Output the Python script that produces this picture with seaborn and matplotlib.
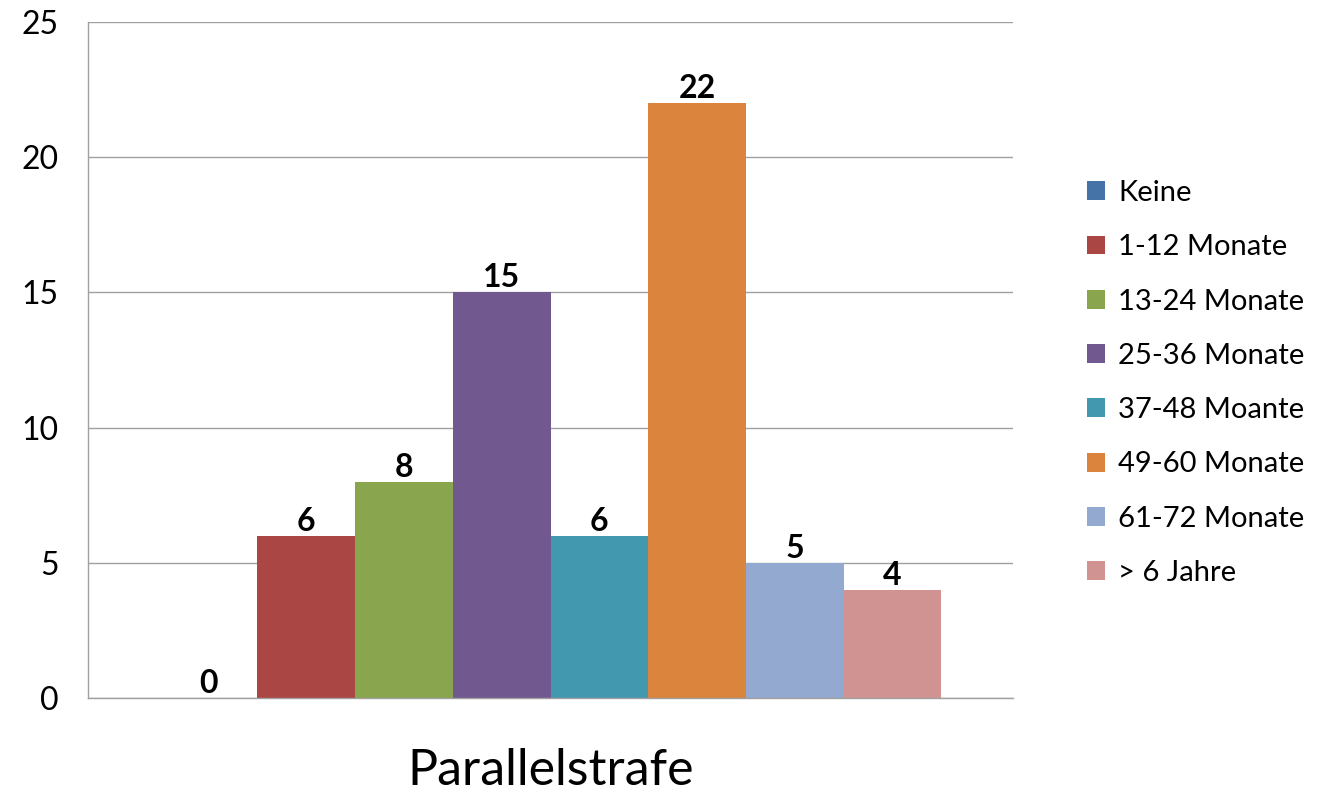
import matplotlib
matplotlib.use("Agg")
import matplotlib.pyplot as plt
import seaborn as sns
import pandas as pd

# data
category = "Parallelstrafe"
series = ["Keine", "1-12 Monate", "13-24 Monate", "25-36 Monate",
          "37-48 Moante", "49-60 Monate", "61-72 Monate", "> 6 Jahre"]
values = [0, 6, 8, 15, 6, 22, 5, 4]
colors = ["#4572A7", "#AA4643", "#89A54E", "#71588F",
          "#4198AF", "#DB843D", "#93A9CF", "#D19392"]
y_ticks = [0, 5, 10, 15, 20, 25]

df = pd.DataFrame({"cat": [category] * len(series), "series": series, "value": values})

sns.set_style("white")
plt.rcParams["font.family"] = ["Lato", "DejaVu Sans"]

W, H = 1326, 792
FS = 23
LEG_FS = 21
fig = plt.figure(figsize=(W / 100, H / 100), dpi=100)
fig.patch.set_facecolor("white")
ax = fig.add_axes([88 / W, 94 / H, 925 / W, 676 / H])

sns.barplot(data=df, x="cat", y="value", hue="series", hue_order=series,
            palette=colors, saturation=1, width=0.845, linewidth=0, ax=ax)

# value labels on top of each bar
for cont in ax.containers:
    ax.bar_label(cont, fmt="%d", fontsize=FS, fontweight="bold", padding=0, color="black")

ax.set_ylim(0, 25)
ax.set_xlim(-0.5, 0.5)
ax.set_yticks(y_ticks)
ax.set_yticklabels([str(t) for t in y_ticks], fontsize=FS, color="black")
ax.grid(axis="y", color="#A0A0A0", linewidth=1)
ax.set_axisbelow(True)

# category boundary ticks like Excel
ax.set_xticks([-0.5, 0.5])
ax.set_xticklabels(["", ""])
ax.tick_params(axis="x", direction="out", length=13, width=1, color="#A0A0A0")
ax.tick_params(axis="y", direction="out", length=9, width=1, color="#A0A0A0", pad=12)
ax.set_xlabel("")
ax.set_ylabel("")

for side in ["top", "right"]:
    ax.spines[side].set_visible(False)
for side in ["left", "bottom"]:
    ax.spines[side].set_color("#A0A0A0")
    ax.spines[side].set_linewidth(1)

fig.text(551 / W, 1 - 785 / H, category, fontsize=36, ha="center", va="baseline", color="black")

handles, labels = ax.get_legend_handles_labels()
leg = ax.legend(handles, labels, loc="center left", bbox_to_anchor=(1087 / W, 1 - 383 / H),
                bbox_transform=fig.transFigure, frameon=False, fontsize=LEG_FS,
                borderpad=0, borderaxespad=0,
                handlelength=0.62, handleheight=0.62, handletextpad=0.45, labelspacing=0.97)
for t in leg.get_texts():
    t.set_color("black")

fig.savefig("out.png", dpi=100, facecolor="white")
